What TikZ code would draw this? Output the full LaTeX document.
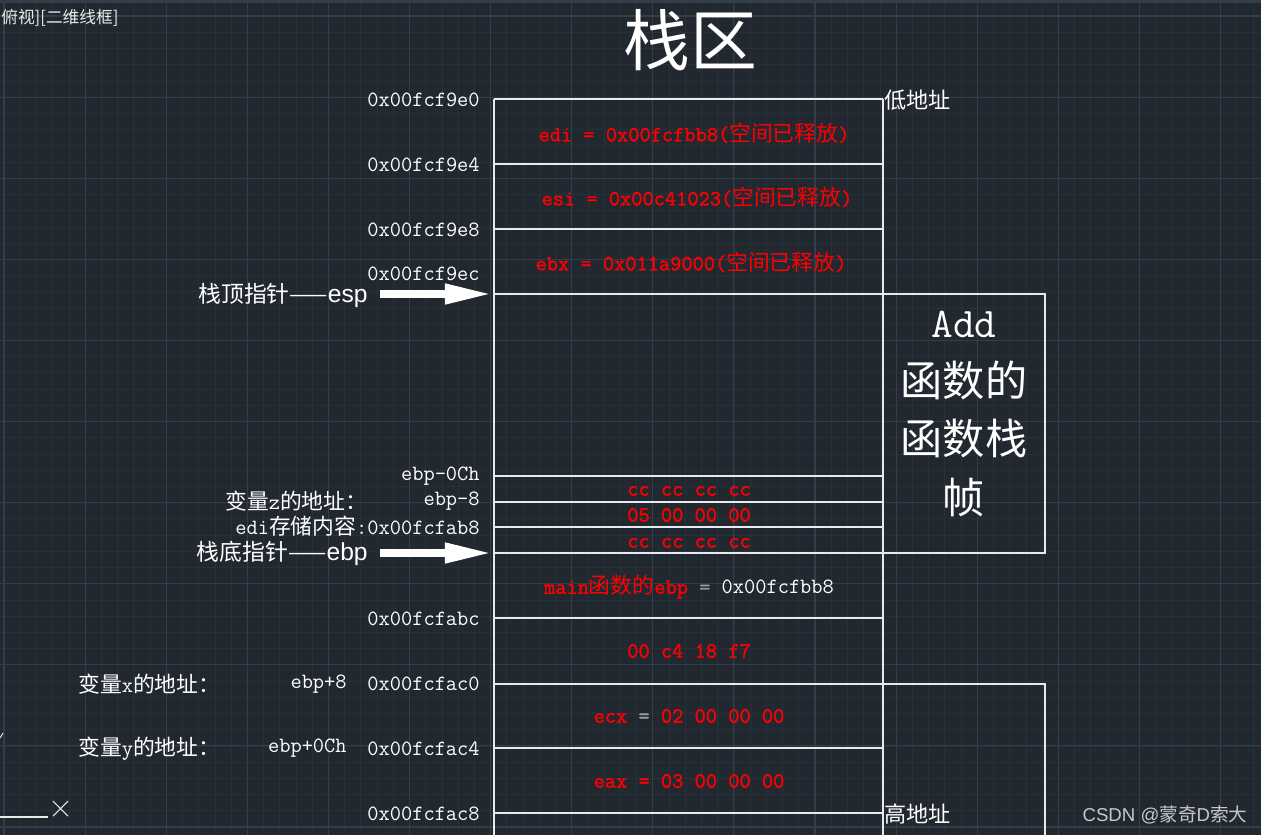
\documentclass[tikz,border=0pt]{standalone}
\usepackage{fontspec}
\newfontfamily\cjk{Noto Sans CJK SC}
\newfontfamily\arial{Liberation Sans}
\newfontfamily\redtt{Latin Modern Mono}[FakeBold=1.4]
\usetikzlibrary{arrows.meta}
\definecolor{bgc}{HTML}{212830}
\definecolor{minorc}{HTML}{283039}
\definecolor{majorc}{HTML}{353D4B}
\definecolor{linec}{HTML}{EAEAEA}
\definecolor{codered}{HTML}{FF0000}
\definecolor{eqgrey}{HTML}{9A9A9A}
\definecolor{markc}{HTML}{C8C8C8}
\newcommand{\zh}[1]{{\cjk #1}}

\begin{document}
\begin{tikzpicture}[x=0.2mm, y=-0.2mm,
		addr/.style={anchor=east, inner sep=0pt, text=white, font=\fontsize{12.4}{14}\selectfont\ttfamily},
		note/.style={anchor=west, inner sep=0pt, text=white, font=\fontsize{12.4}{14}\selectfont\ttfamily},
		val/.style={inner sep=0pt, text=codered, font=\fontsize{12.4}{14}\selectfont\redtt},
		ptr/.style={anchor=east, inner sep=0pt, text=white, font=\fontsize{13}{15}\selectfont\cjk},
		side/.style={anchor=west, inner sep=0pt, text=white, font=\fontsize{12.6}{15}\selectfont\cjk},
		cell/.style={draw=linec, line width=0.8pt},
		blockarrow/.style={draw=white, line width=5pt, -{Triangle[length=28pt,width=10.5pt]}}]
		\useasboundingbox (0,0) rectangle (1261,835);
		\fill[bgc] (0,0) rectangle (1261,835);
		\fill[majorc] (0,0) rectangle (1261,3);
		\foreach \i in {0,...,77} \draw[minorc, line width=0.4pt] ({4+16.22*\i},3) -- ({4+16.22*\i},835);
		\foreach \i in {0,...,51} \draw[minorc, line width=0.4pt] (0,{-0.22+16.22*\i}) -- (1261,{-0.22+16.22*\i});
		\foreach \i in {0,...,15} \draw[majorc, line width=0.6pt] ({4+81.1*\i},3) -- ({4+81.1*\i},835);
		\foreach \i in {0,...,10} \draw[majorc, line width=0.6pt] (0,{16+81.1*\i}) -- (1261,{16+81.1*\i});
		
		% stack column
		\foreach \yy in {99,164,229,294,476,502,527,553,618,684,748,813}
			\draw[cell] (494,\yy) -- (883,\yy);
		\draw[cell] (494,99) -- (494,835);
		\draw[cell] (883,99) -- (883,835);
		\draw[cell] (883,294) -- (1045,294) -- (1045,553) -- (883,553);
		\draw[cell] (883,684) -- (1045,684) -- (1045,835);
		
		\node[anchor=west, inner sep=0pt, text=linec, font=\fontsize{9.5}{11}\selectfont\cjk] (view) at (1,18) {俯视][二维线框]};
		\node[inner sep=0pt, text=white, font=\fontsize{38}{40}\selectfont\cjk] (title) at (690,40) {栈区};
		
		\node[addr] (a0) at (480,100) {0x00fcf9e0};
		\node[addr] (a4) at (480,165) {0x00fcf9e4};
		\node[addr] (a8) at (480,230) {0x00fcf9e8};
		\node[addr] (ac) at (480,274) {0x00fcf9ec};
		\node[addr] (m12) at (480,476) {ebp-0Ch};
		\node[addr] (m8) at (480,501) {ebp-8};
		\node[addr] (edist) at (480,526) {edi\zh{存储内容}:0x00fcfab8};
		\node[addr] (b0) at (480,619) {0x00fcfabc};
		\node[addr] (b4) at (480,684) {0x00fcfac0};
		\node[addr] (b8) at (480,749) {0x00fcfac4};
		\node[addr] (bc) at (480,814) {0x00fcfac8};
		\node[addr] (p8) at (347,684) {ebp+8};
		\node[addr] (p12) at (347,748) {ebp+0Ch};
		\node[note] (zvar) at (225,501) {\zh{变量}z\zh{的地址：}};
		\node[note] (xvar) at (78,684) {\zh{变量}x\zh{的地址：}};
		\node[note] (yvar) at (78,749) {\zh{变量}y\zh{的地址：}};
		
		\node[side] (low) at (884,100) {低地址};
		\node[side] (high) at (884,814) {高地址};
		
		\node[val] (edi) at (694,133) {edi = 0x00fcfbb8(\zh{空间已释放})};
		\node[val] (esi) at (697,197) {esi = 0x00c41023(\zh{空间已释放})};
		\node[val] (ebx) at (691,262) {ebx = 0x011a9000(\zh{空间已释放})};
		\node[val] (cc1) at (689,491) {cc cc cc cc};
		\node[val] (zval) at (689,515) {05 00 00 00};
		\node[val] (cc2) at (689,543) {cc cc cc cc};
		\node[val] (oldebp) at (689,587) {main\zh{函数的}ebp {\color{eqgrey}=} {\ttfamily\color{white}0x00fcfbb8}};
		\node[val] (ret) at (689,651) {00 c4 18 f7};
		\node[val] (ecx) at (689,716) {ecx {\color{eqgrey}=} 02 00 00 00};
		\node[val] (eax) at (689,781) {eax = 03 00 00 00};
		
		\node[inner sep=0pt, text=white, align=center, font=\fontsize{24}{33.5}\selectfont\cjk] (frame) at (964,414) {{\ttfamily Add}\\函数的\\函数栈\\帧};
		
		% pointers
		\node[ptr] (espLbl) at (368,295) {栈顶指针——{\arial\fontsize{14}{15}\selectfont esp}};
		\node[ptr] (ebpLbl) at (368,553) {栈底指针——{\arial\fontsize{14}{15}\selectfont ebp}};
		\coordinate (espTail) at (380,294);
		\coordinate (espTip) at (494,294);
		\coordinate (ebpTail) at (380,553);
		\coordinate (ebpTip) at (494,553);
		\draw[blockarrow] (espTail) -- (espTip);
		\draw[blockarrow] (ebpTail) -- (ebpTip);
		
		\node[inner sep=0pt, text=markc, font=\fontsize{10.6}{12}\selectfont\arial] (mark) at (1165,815) {CSDN @\zh{蒙奇}D\zh{索大}};
		
		% ucs icon
		\draw[linec, line width=0.8pt] (0,817) -- (48,817);
		\draw[linec, line width=0.6pt] (53,801) -- (68,816) (53,816) -- (68,801);
		\draw[linec, line width=0.5pt] (0,738) -- (3,733);
	\end{tikzpicture}
\end{document}
